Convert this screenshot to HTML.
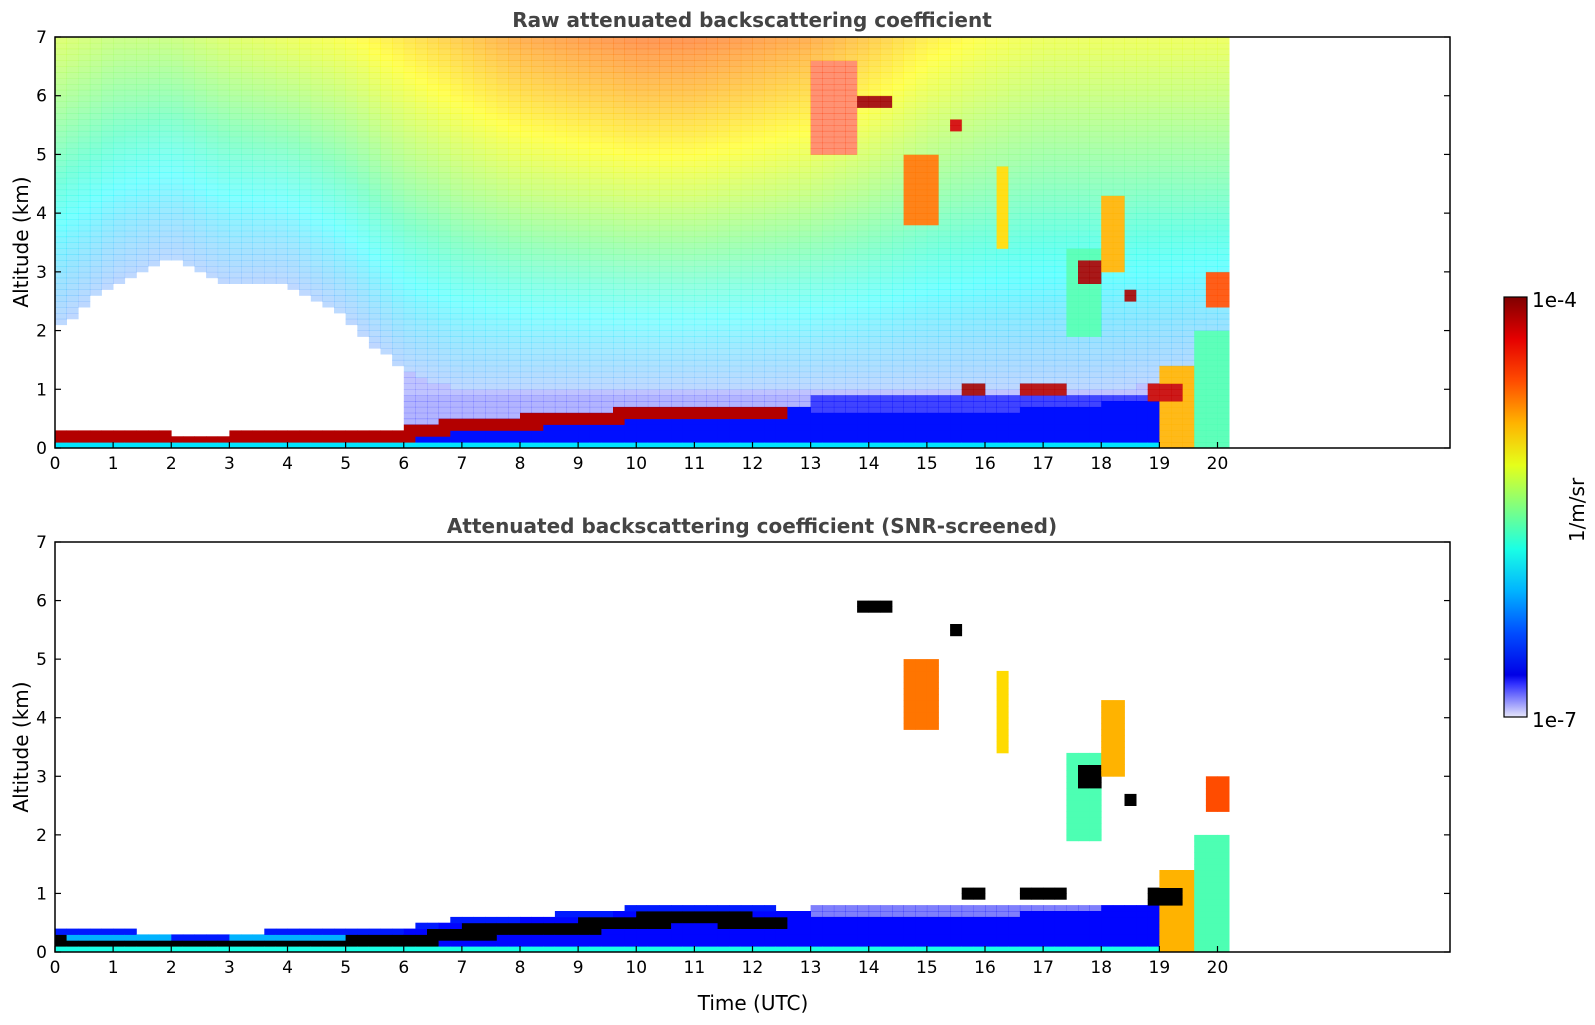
<!DOCTYPE html>
<html><head><meta charset="utf-8">
<style>
html,body{margin:0;padding:0;background:#fff;}
body{width:1595px;height:1020px;overflow:hidden;font-family:"Liberation Sans","DejaVu Sans",sans-serif;}
svg text{font-family:"DejaVu Sans","Liberation Sans",sans-serif;}
</style></head>
<body>
<svg id="chart" width="1595" height="1020" viewBox="0 0 1595 1020" xmlns="http://www.w3.org/2000/svg">
  <defs>
    <linearGradient id="jetgrad" x1="0" y1="1" x2="0" y2="0"></linearGradient>
  </defs>
  <text x="752" y="27" text-anchor="middle" font-size="20" font-weight="bold" fill="#444">Raw attenuated backscattering coefficient</text>
  <text x="752" y="533" text-anchor="middle" font-size="20" font-weight="bold" fill="#444">Attenuated backscattering coefficient (SNR-screened)</text>
  <g id="p1"></g>
  <g id="p2"></g>
  <g id="axes"></g>
  <text transform="translate(28,242) rotate(-90)" text-anchor="middle" font-size="20">Altitude (km)</text>
  <text transform="translate(28,747) rotate(-90)" text-anchor="middle" font-size="20">Altitude (km)</text>
  <text x="753" y="1010" text-anchor="middle" font-size="20">Time (UTC)</text>
  <g>
    <rect x="1504" y="297" width="23" height="420" fill="url(#jetgrad)" stroke="#000" stroke-width="1.2"/>
    <text x="1532" y="307" font-size="20">1e-4</text>
    <text x="1532" y="727" font-size="20">1e-7</text>
    <text transform="translate(1584,510) rotate(-90)" text-anchor="middle" font-size="20">1/m/sr</text>
  </g>
</svg>
<script>
// ---- data (hourly profiles) ----
const hours = [0,1,2,3,4,5,6,7,8,9,10,11,12,13,14,15,16,17,18,19,20];
const blTop = [0.3,0.3,0.25,0.25,0.3,0.3,0.35,0.5,0.55,0.6,0.7,0.75,0.7,0.65,0.6,0.55,0.6,0.7,0.75,0.85,0.6];
const blBand = [1,1,1,1,1,1,1,1,1,1,1,1,1,0.2,0.2,0.2,0.2,0.2,0.2,0.2,0.2];
const skyHi = [0.58,0.55,0.55,0.58,0.6,0.62,0.66,0.7,0.74,0.76,0.78,0.78,0.76,0.74,0.7,0.65,0.62,0.6,0.6,0.6,0.6];
const whiteTop = [2.0,2.8,3.2,2.8,2.8,2.2,1.3,1.0,1.0,1.0,1.0,1.0,1.0,1.0,1.0,1.0,1.0,1.0,1.0,1.1,1.2];
// clouds: [t0, t1, z0, z1, value, rawOnly]
const clouds = [
 [13.0,13.7,5.0,6.6,0.82,1],
 [13.8,14.3,5.8,6.0,0.97,0],
 [14.6,15.2,3.8,5.0,0.76,0],
 [15.3,15.5,5.4,5.6,0.92,0],
 [15.5,15.6,5.2,5.8,0.72,0],
 [16.1,16.3,3.4,4.8,0.66,0],
 [17.4,17.9,1.9,3.4,0.45,0],
 [17.6,18.0,2.8,3.2,0.97,0],
 [18.0,18.4,3.0,4.3,0.70,0],
 [18.3,18.5,2.5,2.7,0.97,0],
 [15.6,16.0,0.95,1.1,0.97,0],
 [16.6,17.4,0.92,1.12,0.95,0],
 [18.8,19.3,0.8,1.05,0.93,0],
 [19.0,19.5,0.0,1.4,0.7,0],
 [19.6,20.2,0.0,2.0,0.45,0],
 [19.8,20.2,2.4,3.0,0.8,0]
];
const xTicks = [0,1,2,3,4,5,6,7,8,9,10,11,12,13,14,15,16,17,18,19,20];
const yTicks = [0,1,2,3,4,5,6,7];
const cbarSteps = [0,0.02,0.04,0.06,0.08,0.1,0.2,0.3,0.4,0.5,0.6,0.7,0.8,0.9,1];

// ---- geometry ----
const X0=55, X1=1450, TMAX=24, ZMAX=7;
const panels=[{top:37,bot:448},{top:542,bot:952}];
const X=t=>X0+t*(X1-X0)/TMAX;
const Yf=p=>z=>panels[p].bot-z*(panels[p].bot-panels[p].top)/ZMAX;
const NS='http://www.w3.org/2000/svg';
function cl(v){return Math.max(0,Math.min(1,v));}
function jet(v){
  if(v<0.1){
    const f=v/0.1; const r=Math.round(230-230*f), g=Math.round(230-230*f), b=Math.round(250+5*f);
    return `rgb(${r},${g},${b})`;
  }
  const r=cl(1.5-Math.abs(4*v-3)),g=cl(1.5-Math.abs(4*v-2)),b=cl(1.5-Math.abs(4*v-1));
  return `rgb(${Math.round(r*255)},${Math.round(g*255)},${Math.round(b*255)})`;
}
function interp(arr,t){
  const i=Math.min(arr.length-2,Math.floor(t)); const f=cl(t-i);
  return arr[i]*(1-f)+arr[i+1]*f;
}
function cloudAt(t,z,raw){
  let v=null, ro=0;
  for(const c of clouds){ if(!raw&&c[5])continue;
    if(t>=c[0]&&t<c[1]&&z>=c[2]&&z<c[3]){ if(v===null||c[4]>v){v=c[4];ro=c[5];} } }
  return v===null?null:{v:v,ro:ro};
}
const DT=0.2, DZ=0.1, TEND=20.2;
function draw(p){
  const g=document.getElementById(p===0?'p1':'p2'); const Y=Yf(p);
  for(let t=0;t<TEND-1e-6;t+=DT){
    const tc=t+DT/2;
    const bl=interp(blTop,tc), band=interp(blBand,tc), hi=interp(skyHi,tc), wt=interp(whiteTop,tc);
    for(let z=0;z<ZMAX-1e-6;z+=DZ){
      const zc=z+DZ/2; let col=null, op=1;
      const c=cloudAt(tc,zc,p===0);
      if(c!==null){ col=(p===1&&c.v>0.9)?'#000':jet(c.v); op=c.ro?0.55:(p===0?0.9:1); }
      else if(p===0){
        if(zc<0.06){ col=jet(0.35); }
        else if(zc<bl-0.22){ col=jet(tc<6?0.35:0.14); }
        else if(zc<bl){ col=band>0.5?jet(0.95):jet(0.14); }
        else if(zc>wt){ const f=(zc-wt)/(ZMAX-wt); col=jet(0.22+(hi-0.22)*Math.pow(f,0.8)); op=0.25+0.4*cl((zc-wt)/2.5); }
        else if(tc>=6 && zc<0.9){ col=jet(0.13); op=tc>13?0.75:0.3; }
        else if(tc>=6){ col=jet(0.14); op=0.25; }
      } else {
        if(zc<0.06){ col=jet(0.4); }
        else if(zc<bl-0.05 && zc>=bl-0.28 && band>0.5){ col='#000'; }
        else if(zc<bl){ col=jet(tc<6?0.3:0.13); }
        else if(zc<bl+0.07 && band>0.5){ col=jet(0.15); }
        else if(tc>13 && zc<0.85){ col=jet(0.12); op=0.5; }
      }
      if(col===null) continue;
      const r=document.createElementNS(NS,'rect');
      
      
      const x0=X(t), x1=X(Math.min(t+DT,TEND)), ya=Y(z+DZ), yb=Y(z);
      r.setAttribute('x',x0.toFixed(1)); r.setAttribute('y',ya.toFixed(1));
      r.setAttribute('width',(x1-x0+0.4).toFixed(1)); r.setAttribute('height',(yb-ya+0.4).toFixed(1));
      r.setAttribute('fill',col); if(op<1) r.setAttribute('fill-opacity',op.toFixed(2));
      g.appendChild(r);
    }
  }
}
draw(0); draw(1);

const ax=document.getElementById('axes');
function el(tag,attrs,txt){const e=document.createElementNS(NS,tag);for(const k in attrs)e.setAttribute(k,attrs[k]);if(txt!==undefined)e.textContent=txt;ax.appendChild(e);return e;}
panels.forEach((pp,p)=>{
  const Y=Yf(p);
  const fr=el('rect',{x:X0,y:pp.top,width:X1-X0,height:pp.bot-pp.top,fill:'none',stroke:'#000','stroke-width':1.5});
  
  
  xTicks.forEach(t=>{
    const l=el('line',{x1:X(t),x2:X(t),y1:pp.bot,y2:pp.bot-6,stroke:'#000','stroke-width':1.2});
    
    
    const tx=el('text',{x:X(t),y:pp.bot+21,'text-anchor':'middle','font-size':17},String(t));
    
    
  });
  yTicks.forEach(z=>{
    const l=el('line',{x1:X0,x2:X0+6,y1:Y(z),y2:Y(z),stroke:'#000','stroke-width':1.2});
    
    
    const r=el('line',{x1:X1,x2:X1-6,y1:Y(z),y2:Y(z),stroke:'#000','stroke-width':1.2});
    
    
    const tx=el('text',{x:X0-8,y:Y(z)+6,'text-anchor':'end','font-size':17},String(z));
    
    
  });
});
const grad=document.getElementById('jetgrad');
cbarSteps.forEach(v=>{const s=document.createElementNS(NS,'stop');
  
  
  s.setAttribute('offset',v);s.setAttribute('stop-color',jet(v));grad.appendChild(s);});
</script>
</body></html>
